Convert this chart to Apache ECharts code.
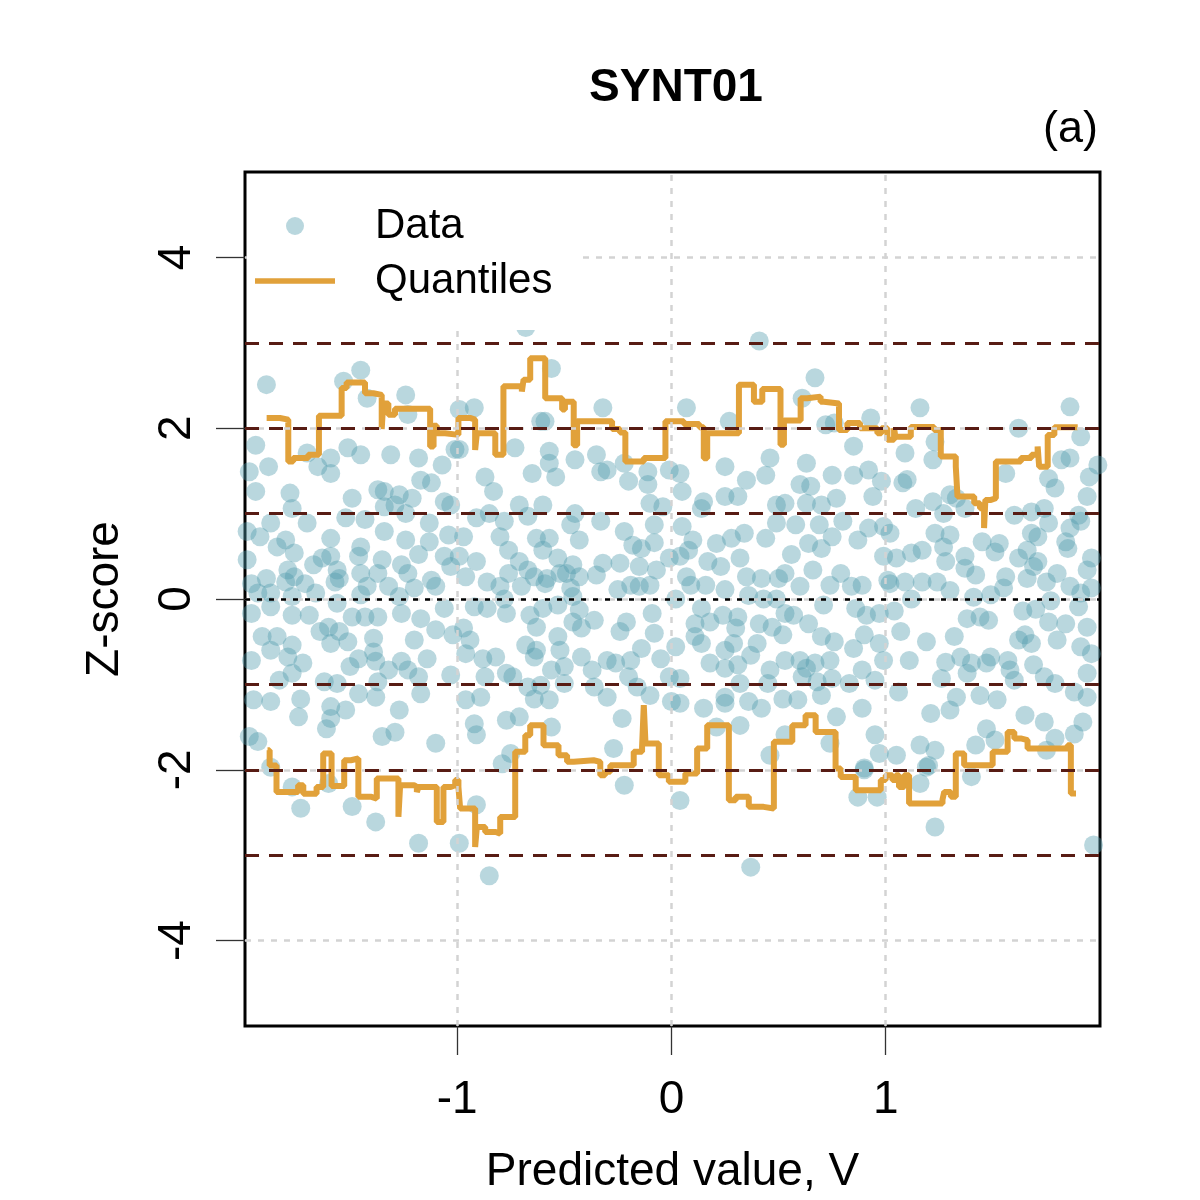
<!DOCTYPE html>
<html>
<head>
<meta charset="utf-8">
<title>SYNT01</title>
<script src="https://cdn.jsdelivr.net/npm/echarts@6.0.0/dist/echarts.min.js"></script>
<style>
  html, body { margin: 0; padding: 0; background: #fff; }
  #chart-container { width: 1200px; height: 1200px; }
</style>
</head>
<body>
<div id="chart-container"></div>
<script>
// tick positions and reference levels
const xTicks = [-1, 0, 1];
const yTicks = [-4, -2, 0, 2, 4];
const gridX = [-1, 0, 1];
const gridY = [-4, -2, 0, 2, 4];
const bandLevels = [-3, -2, -1, 1, 2, 3];
const zeroLevel = [0];

// z-scores: [predicted value, z-score]
const dataPoints = [
  [-1.94,1.80],[-1.70,1.71],[-1.59,1.65],[-1.51,1.77],[-1.45,1.69],[-1.31,1.69],[-1.18,1.65],[-1.07,1.57],[-1.01,1.75],[-1.88,1.55],[-1.65,1.55],[-1.59,1.47],[-1.97,1.49],
  [-1.94,1.26],[-1.78,1.24],[-1.49,1.18],[-1.37,1.28],[-1.34,1.26],[-1.27,1.22],[-1.21,1.18],[-1.17,1.39],[-1.12,1.36],[-1.06,1.14],[-1.77,1.06],[-1.29,1.10],[-1.24,1.00],[-1.34,1.08],[-1.03,1.10],
  [-1.98,0.79],[-1.92,0.73],[-1.87,0.89],[-1.80,0.69],[-1.70,0.89],[-1.59,0.71],[-1.52,0.95],[-1.43,0.93],[-1.34,0.79],[-1.24,0.69],[-1.13,0.89],[-1.04,0.75],[-1.84,0.61],[-1.45,0.61],[-1.13,0.67],
  [-1.76,0.54],[-1.67,0.40],[-1.63,0.48],[-1.59,0.50],[-1.56,0.34],[-1.46,0.50],[-1.79,0.34],[-1.76,0.26],[-1.98,0.46],[-1.35,0.46],[-1.26,0.40],[-1.23,0.30],[-1.18,0.52],[-1.06,0.50],[-1.03,0.38],[-1.55,0.24],[-1.45,0.30],[-1.37,0.30],[-1.12,0.22],
  [-1.96,0.18],[-1.89,0.24],[-1.80,0.20],[-1.71,0.18],[-1.57,0.20],[-1.42,0.15],[-1.32,0.15],[-1.20,0.13],[-1.10,0.15],[-1.93,0.07],[-1.87,0.07],[-1.77,0.03],[-1.66,0.07],[-1.45,0.05],[-1.27,0.03],
  [-1.96,-0.17],[-1.87,-0.09],[-1.77,-0.19],[-1.69,-0.19],[-1.56,-0.05],[-1.49,-0.21],[-1.43,-0.21],[-1.37,-0.21],[-1.26,-0.17],[-1.17,-0.23],[-1.06,-0.11],[-1.60,-0.33],[-1.10,-0.36],
  [-1.91,-0.44],[-1.84,-0.44],[-1.77,-0.54],[-1.64,-0.38],[-1.59,-0.52],[-1.55,-0.38],[-1.51,-0.50],[-1.39,-0.46],[-1.20,-0.48],[-1.02,-0.42],[-1.87,-0.60],[-1.79,-0.68],[-1.72,-0.75],[-1.46,-0.70],[-1.39,-0.62],[-1.38,-0.73],[-1.26,-0.73],[-1.14,-0.70],[-1.96,-0.72],
  [-1.77,-0.87],[-1.62,-0.97],[-1.56,-0.99],[-1.50,-0.79],[-1.46,-1.11],[-1.37,-0.97],[-1.32,-0.83],[-1.23,-0.83],[-1.18,-0.91],[-1.17,-1.11],[-1.03,-0.89],[-1.83,-0.95],
  [-1.95,-1.18],[-1.87,-1.20],[-1.73,-1.17],[-1.74,-1.38],[-1.59,-1.26],[-1.59,-1.40],[-1.52,-1.30],[-1.61,-1.52],[-1.38,-1.15],[-1.27,-1.30],[-1.35,-1.61],[-1.29,-1.56],[-1.10,-1.69],[-1.97,-1.61],[-1.93,-1.67],[-1.87,-1.97],
  [-1.89,2.51],[-1.45,2.68],[-1.53,2.55],[-1.42,2.35],[-1.24,2.39],[-1.23,2.16],[-0.99,2.22],[-0.92,2.24],[-0.61,2.08],
  [-0.56,2.70],[-0.32,2.24],[-0.59,2.08],[0.07,2.24],[0.27,2.08],[0.67,2.59],[0.61,2.35],[0.41,3.02],[0.72,2.04],[0.76,2.06],[-0.68,3.18],
  [0.93,2.12],[1.16,2.24],[1.86,2.25],[1.62,2.00],
  [-1.77,-2.20],[-1.73,-2.45],[-1.49,-2.43],[-1.38,-2.61],[-1.18,-2.86],[-0.99,-2.86],[-0.85,-3.24],[-0.91,-2.41],[-1.60,-2.16],[-0.22,-2.18],[0.04,-2.36],[0.37,-3.14],
  [0.87,-2.32],[0.96,-2.32],[1.23,-2.67],[1.97,-2.88],[1.16,-2.16],[0.90,-2.00],[1.40,-2.08],[1.20,-1.95],
  [-0.99,1.75],[-0.73,1.77],[-0.57,1.73],[-0.57,1.59],[-0.54,1.43],[-0.65,1.47],[-0.45,1.63],[-0.35,1.69],[-0.33,1.49],[-0.30,1.51],[-0.22,1.59],[-0.20,1.38],[-0.11,1.34],[-0.11,1.49],[-0.01,1.51],[-0.87,1.43],[-0.83,1.26],[-0.71,1.10],[-0.60,1.10],[-0.10,1.12],[-0.04,1.08],
  [-0.91,0.95],[-0.85,1.00],[-0.78,0.91],[-0.67,0.97],[-0.47,0.87],[-0.45,1.00],[-0.33,0.91],[-0.22,0.79],[-0.08,0.87],[-0.97,0.73],[-0.80,0.73],[-0.63,0.71],[-0.57,0.71],[-0.43,0.69],[-0.76,0.57],[-0.60,0.57],[-0.18,0.63],[-0.14,0.59],[-0.08,0.66],
  [-0.99,0.50],[-0.91,0.44],[-0.71,0.44],[-0.67,0.34],[-0.53,0.48],[-0.46,0.40],[-0.49,0.30],[-0.32,0.42],[-0.24,0.42],[-0.15,0.38],[-0.07,0.34],[-0.01,0.48],
  [-0.96,0.26],[-0.86,0.20],[-0.76,0.30],[-0.64,0.26],[-0.58,0.24],[-0.52,0.30],[-0.43,0.26],[-0.35,0.28],[-0.25,0.11],[-0.19,0.16],[-0.15,0.15],[-0.10,0.16],[-0.80,0.15],[-0.70,0.15],[-0.59,0.18],[-0.47,0.13],
  [-0.92,-0.09],[-0.86,-0.11],[-0.78,0.00],[-0.77,-0.17],[-0.60,-0.11],[-0.53,-0.07],[-0.46,0.03],[-0.43,-0.13],[-0.36,-0.25],[-0.21,-0.27],[-0.09,-0.17],[-0.66,-0.19],[-0.46,-0.27],
  [-0.97,-0.34],[-0.63,-0.33],[-0.53,-0.44],[-0.42,-0.34],[-0.24,-0.38],[-0.08,-0.40],[-0.94,-0.48],[-0.68,-0.54],[-0.63,-0.60],[-0.52,-0.60],[-0.96,-0.64],[-0.88,-0.70],[-0.82,-0.68],[-0.64,-0.68],[-0.42,-0.68],[-0.30,-0.72],[-0.26,-0.75],[-0.19,-0.72],[-0.14,-0.58],[-0.05,-0.70],
  [-0.87,-0.91],[-0.77,-0.87],[-0.74,-0.91],[-0.56,-0.83],[-0.50,-0.79],[-0.50,-0.99],[-0.37,-0.83],[-0.20,-0.91],[-0.01,-0.91],[-0.67,-1.03],[-0.61,-1.01],
  [-0.96,-1.18],[-0.89,-1.15],[-0.64,-1.17],[-0.57,-1.18],[-0.36,-1.03],[-0.30,-1.15],[-0.16,-1.03],[-0.10,-1.13],[0.00,-1.20],
  [-0.92,-1.46],[-0.91,-1.59],[-0.77,-1.42],[-0.71,-1.38],[-0.56,-1.50],[-0.23,-1.40],[-0.27,-1.75],[-0.79,-1.93],[-0.75,-1.81],
  [0.05,1.26],[0.04,1.47],[0.25,1.55],[0.35,1.39],[0.44,1.45],[0.46,1.65],[0.63,1.59],[0.60,1.34],[0.65,1.32],[0.75,1.45],[0.85,1.45],[0.92,1.51],[0.85,1.79],[0.98,1.38],[0.94,1.20],[0.25,1.20],[0.31,1.20],[0.14,1.06],[0.15,1.14],[0.49,1.10],[0.53,1.12],[0.63,1.12],[0.70,1.10],[0.77,1.18],
  [0.05,0.85],[0.10,0.69],[0.21,0.65],[0.28,0.71],[0.34,0.77],[0.44,0.71],[0.49,0.89],[0.58,0.87],[0.64,0.65],[0.69,0.87],[0.75,0.73],[0.80,0.91],[0.87,0.69],[0.92,0.83],[0.99,0.85],
  [0.04,0.50],[0.08,0.57],[0.17,0.44],[0.23,0.38],[0.32,0.48],[0.56,0.52],[0.53,0.30],[0.66,0.34],[0.70,0.59],[0.99,0.50],
  [0.07,0.26],[0.09,0.16],[0.16,0.16],[0.25,0.11],[0.35,0.26],[0.42,0.24],[0.50,0.24],[0.60,0.15],[0.74,0.16],[0.79,0.30],[0.84,0.15],[0.89,0.16],[1.01,0.22],
  [0.02,0.00],[0.14,-0.11],[0.24,-0.19],[0.31,-0.21],[0.36,0.04],[0.43,0.00],[0.49,0.00],[0.53,-0.17],[0.57,-0.19],[0.64,-0.29],[0.71,-0.07],[0.86,-0.11],[0.91,-0.19],[0.97,-0.17],[0.11,-0.29],[0.18,-0.27],
  [0.11,-0.44],[0.14,-0.52],[0.30,-0.34],[0.41,-0.29],[0.47,-0.33],[0.52,-0.42],[0.70,-0.44],[0.76,-0.50],[0.85,-0.58],[0.90,-0.42],[0.97,-0.52],[0.02,-0.56],[0.25,-0.60],[0.29,-0.52],[0.37,-0.66],[0.40,-0.52],[0.53,-0.72],[0.60,-0.72],[0.63,-0.81],[0.67,-0.75],[0.74,-0.72],[0.89,-0.83],[0.99,-0.72],[0.18,-0.75],[0.25,-0.81],[0.31,-0.77],[0.46,-0.83],
  [0.04,-0.93],[0.32,-0.99],[0.45,-0.99],[0.61,-0.91],[0.68,-0.97],[0.75,-0.93],[0.83,-0.99],[0.95,-0.95],
  [0.04,-1.22],[0.25,-1.15],[0.25,-1.22],[0.15,-1.28],[0.36,-1.20],[0.42,-1.28],[0.52,-1.17],[0.59,-1.18],[0.70,-1.13],[0.77,-1.38],[0.89,-1.28],[0.32,-1.48],[0.21,-1.50],[0.53,-1.59],[0.74,-1.69],[0.95,-1.59],[0.97,-1.81],[0.46,-1.83],[0.90,-1.98],
  [1.09,1.71],[1.23,1.84],[1.22,1.63],[1.10,1.40],[1.08,1.36],[1.30,1.22],[1.33,1.18],[1.56,1.47],[1.76,1.41],[1.79,1.30],[1.82,1.63],[1.86,1.65],[1.95,1.43],[1.94,1.20],[1.99,1.57],[1.91,1.90],
  [1.14,1.06],[1.22,1.14],[1.27,1.00],[1.37,1.06],[1.60,0.98],[1.68,1.02],[1.74,1.06],[1.90,0.98],[1.76,0.89],[1.86,0.83],[1.91,0.91],
  [1.23,0.77],[1.30,0.75],[1.02,0.77],[1.27,0.61],[1.45,0.67],[1.53,0.65],[1.51,0.55],[1.68,0.77],[1.71,0.73],[1.66,0.57],[1.84,0.67],[1.85,0.59],[1.96,0.48],[1.94,0.34],
  [1.05,0.48],[1.12,0.54],[1.17,0.57],[1.28,0.44],[1.37,0.50],[1.37,0.36],[1.62,0.48],[1.69,0.38],[1.71,0.44],
  [1.42,0.28],[1.56,0.26],[1.66,0.24],[1.75,0.20],[1.80,0.30],[1.86,0.15],[1.91,0.07],[1.96,0.13],[1.02,0.18],[1.09,0.20],[1.17,0.20],[1.24,0.20],[1.30,0.10],[1.12,0.00],[1.41,0.02],[1.49,0.05],[1.55,0.13],
  [1.64,-0.14],[1.70,-0.12],[1.77,-0.02],[1.90,-0.09],[1.04,-0.14],[1.38,-0.23],[1.44,-0.21],[1.48,-0.25],[1.76,-0.27],[1.84,-0.29],[1.94,-0.33],
  [1.07,-0.38],[1.19,-0.50],[1.32,-0.44],[1.65,-0.42],[1.62,-0.48],[1.68,-0.52],[1.80,-0.48],[1.91,-0.56],[1.96,-0.64],
  [1.11,-0.72],[1.28,-0.74],[1.35,-0.68],[1.40,-0.75],[1.47,-0.75],[1.49,-0.68],[1.57,-0.72],[1.58,-0.83],[1.69,-0.77],[1.74,-0.91],[1.79,-0.99],[1.94,-0.87],[1.26,-0.93],[1.38,-0.87],[1.60,-0.95],
  [1.06,-1.09],[1.33,-1.15],[1.44,-1.13],[1.52,-1.18],[1.88,-1.09],[1.94,-1.15],[1.21,-1.34],[1.30,-1.30],[1.65,-1.36],[1.74,-1.44],[1.92,-1.44],[1.88,-1.58],[1.47,-1.52],[1.42,-1.71],[1.51,-1.65],[1.16,-1.71],[1.23,-1.77],[1.19,-1.97],[1.79,-1.63],[1.75,-1.77],[1.05,-1.83]
];

// running upper and lower quantiles: [x where level starts, level]
const upperQuantile = [
  [-1.889,2.12],[-1.827,2.10],[-1.788,1.61],[-1.765,1.65],[-1.695,1.69],[-1.645,2.145],[-1.539,2.47],[-1.516,2.535],
  [-1.43,2.41],[-1.391,2.39],[-1.352,1.99],[-1.345,2.29],[-1.321,2.157],[-1.29,2.227],[-1.126,1.786],[-1.11,2.03],
  [-1.095,1.94],[-1.056,1.922],[-0.994,2.12],[-0.94,2.10],[-0.916,1.746],[-0.908,1.941],[-0.822,1.688],[-0.784,2.49],
  [-0.698,2.43],[-0.69,2.568],[-0.659,2.82],[-0.589,2.35],[-0.51,2.22],[-0.497,2.31],[-0.456,1.80],[-0.44,2.08],
  [-0.277,1.99],[-0.24,1.95],[-0.215,1.61],[-0.129,1.65],[-0.028,2.08],[0.058,2.05],[0.13,2.01],[0.151,1.649],
  [0.167,1.94],[0.315,2.51],[0.385,2.31],[0.424,2.46],[0.509,1.805],[0.525,2.09],[0.603,2.35],[0.634,2.37],
  [0.696,2.31],[0.712,2.29],[0.782,1.98],[0.821,2.06],[0.88,2.0],[0.961,1.94],[0.98,2.0],[1.008,1.864],
  [1.039,2.0],[1.045,1.9],[1.117,2.013],[1.226,1.98],[1.257,1.668],[1.327,1.55],[1.335,1.2],[1.413,1.12],
  [1.44,1.063],[1.459,0.83],[1.465,1.16],[1.491,1.18],[1.514,1.61],[1.631,1.65],[1.68,1.69],[1.709,1.786],
  [1.716,1.55],[1.756,1.92],[1.787,2.01],[1.896,2.01]
];
const lowerQuantile = [
  [-1.885,-1.77],[-1.875,-1.95],[-1.843,-2.26],[-1.742,-2.18],[-1.718,-2.28],[-1.656,-2.2],[-1.625,-1.81],[-1.586,-2.19],
  [-1.527,-1.888],[-1.496,-1.868],[-1.461,-2.317],[-1.40,-2.337],[-1.375,-2.102],[-1.274,-2.55],[-1.266,-2.18],[-1.2,-2.2],
  [-1.188,-2.26],[-1.18,-2.2],[-1.095,-2.61],[-1.064,-2.2],[-1.03,-2.18],[-1.009,-2.12],[-0.994,-2.2],[-0.986,-2.454],
  [-0.916,-2.903],[-0.908,-2.669],[-0.869,-2.728],[-0.82,-2.747],[-0.799,-2.552],[-0.729,-1.79],[-0.682,-1.594],[-0.659,-1.477],
  [-0.597,-1.712],[-0.527,-1.829],[-0.487,-1.907],[-0.456,-1.888],[-0.363,-1.907],[-0.332,-2.063],[-0.31,-2.024],[-0.285,-1.946],
  [-0.176,-1.79],[-0.137,-1.731],[-0.129,-1.243],[-0.121,-1.692],[-0.059,-2.063],[-0.012,-2.141],[0.065,-2.044],[0.12,-1.75],
  [0.167,-1.477],[0.268,-2.356],[0.30,-2.317],[0.361,-2.434],[0.43,-2.454],[0.478,-1.673],[0.564,-1.477],[0.626,-1.36],
  [0.673,-1.556],[0.766,-1.985],[0.79,-2.083],[0.86,-2.24],[0.977,-2.12],[1.0,-2.063],[1.031,-2.12],[1.047,-2.063],
  [1.062,-2.2],[1.086,-2.063],[1.109,-2.395],[1.265,-2.35],[1.273,-2.259],[1.304,-2.317],[1.327,-1.81],[1.366,-1.946],
  [1.499,-1.79],[1.569,-1.556],[1.6,-1.633],[1.63,-1.653],[1.662,-1.75],[1.849,-1.712],[1.864,-2.278],[1.888,-2.278]
];

const FONT = "Liberation Sans";
const pointColor = "rgba(81,155,173,0.5)";
const quantColor = "#E1A13A";

const dom = document.getElementById("chart-container");
const myChart = echarts.init(dom, null, { renderer: "canvas" });

function refLines(name, values, dim, lineStyle) {
  return {
    name: name,
    type: "line",
    data: [],
    silent: true,
    markLine: {
      symbol: "none",
      silent: true,
      animation: false,
      label: { show: false },
      lineStyle: lineStyle,
      data: values.map((v) => ({ [dim]: v })),
    },
  };
}

const option = {
  animation: false,
  backgroundColor: "#fff",
  title: [
    {
      text: "SYNT01",
      left: 671,
      top: 60,
      textAlign: "center",
      textStyle: { fontFamily: FONT, fontSize: 46, fontWeight: "bold", color: "#000" },
    },
    {
      text: "(a)",
      right: 97,
      top: 102,
      textStyle: { fontFamily: FONT, fontSize: 45, fontWeight: "normal", color: "#000" },
    },
  ],
  // white box behind the legend, inside the plot frame
  graphic: [
    {
      type: "rect",
      z: 9,
      silent: true,
      shape: { x: 247, y: 174, width: 333, height: 156 },
      style: { fill: "#fff" },
    },
  ],
  legend: {
    z: 10,
    orient: "vertical",
    left: 247,
    top: 174,
    padding: [31, 27, 28, 8],
    itemGap: 13,
    itemWidth: 80,
    itemHeight: 18,
    selectedMode: false,
    textStyle: {
      fontFamily: FONT,
      fontSize: 42,
      color: "#000",
      lineHeight: 40,
      padding: [0, 0, 0, 35],
    },
    data: [
      { name: "Data", icon: "circle", itemStyle: { color: pointColor } },
      { name: "Quantiles", icon: "path://M0,0H80V5.5H0Z", itemStyle: { color: quantColor } },
    ],
  },
  grid: {
    left: 245,
    right: 100,
    top: 172,
    bottom: 174,
    show: true,
    borderColor: "#000",
    borderWidth: 3,
    outerBoundsMode: "none",
  },
  xAxis: {
    type: "value",
    min: -1.99,
    max: 2.0,
    axisLine: { show: false, onZero: false },
    splitLine: { show: false },
    axisTick: { show: true, length: 29, lineStyle: { color: "#333", width: 1.3 }, customValues: xTicks },
    axisLabel: { customValues: xTicks, margin: 51, fontFamily: FONT, fontSize: 46, color: "#000" },
    name: "Predicted value, V",
    nameLocation: "middle",
    nameGap: 123,
    nameTextStyle: { fontFamily: FONT, fontSize: 46, color: "#000" },
  },
  yAxis: {
    type: "value",
    min: -5,
    max: 5,
    axisLine: { show: false, onZero: false },
    splitLine: { show: false },
    axisTick: { show: true, length: 29, lineStyle: { color: "#333", width: 1.3 }, customValues: yTicks },
    axisLabel: { customValues: yTicks, rotate: 90, margin: 45, fontFamily: FONT, fontSize: 46, color: "#000" },
    name: "Z-score",
    nameLocation: "middle",
    nameGap: 117,
    nameTextStyle: { fontFamily: FONT, fontSize: 46, color: "#000" },
  },
  series: [
    refLines("gridX", gridX, "xAxis", { color: "#d3d3d3", width: 2.5, type: [6, 7] }),
    refLines("gridY", gridY, "yAxis", { color: "#d3d3d3", width: 2.5, type: [6, 7] }),
    refLines("band", bandLevels, "yAxis", { color: "#581C14", width: 3, type: [14, 10] }),
    refLines("zero", zeroLevel, "yAxis", { color: "#000", width: 2.5, type: [5, 7] }),
    {
      name: "Data",
      type: "scatter",
      symbol: "circle",
      symbolSize: 19,
      itemStyle: { color: pointColor },
      data: dataPoints,
    },
    {
      name: "Quantiles",
      type: "line",
      step: "end",
      showSymbol: false,
      symbol: "none",
      lineStyle: { color: quantColor, width: 6 },
      itemStyle: { color: quantColor },
      data: upperQuantile,
    },
    {
      name: "Quantiles",
      type: "line",
      step: "end",
      showSymbol: false,
      symbol: "none",
      lineStyle: { color: quantColor, width: 6 },
      itemStyle: { color: quantColor },
      data: lowerQuantile,
    },
  ],
};

myChart.setOption(option);
window.addEventListener("resize", myChart.resize);
</script>
</body>
</html>
